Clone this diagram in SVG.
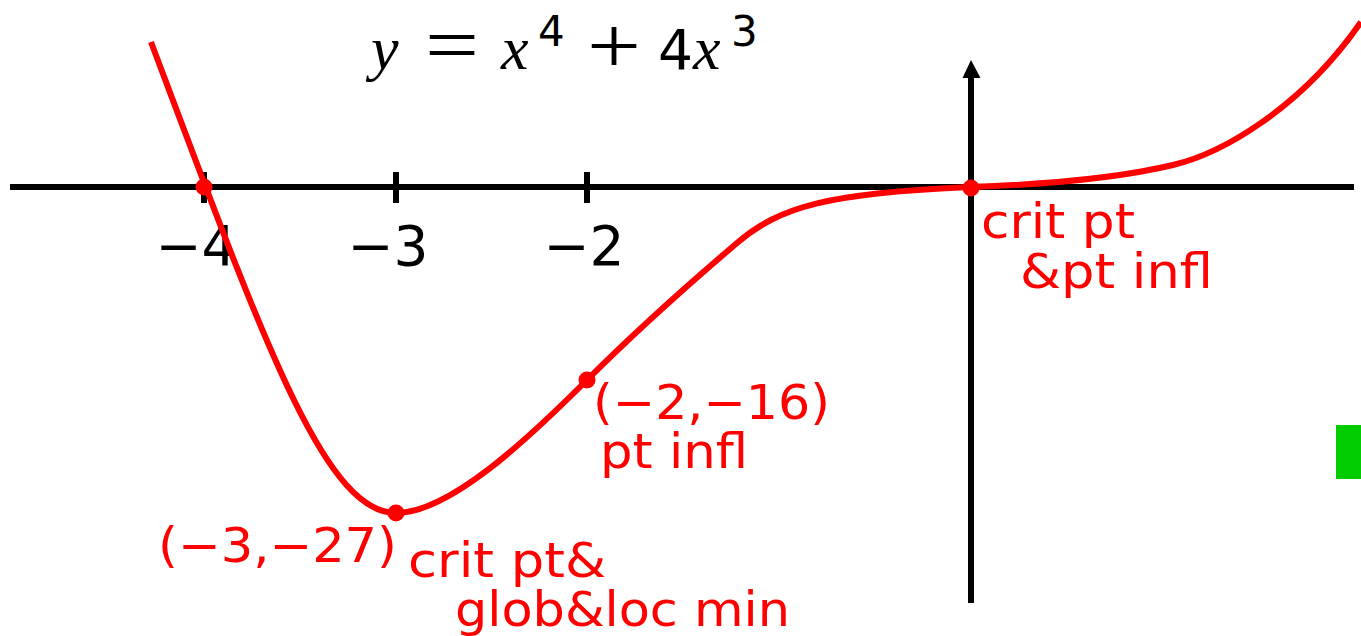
<svg xmlns="http://www.w3.org/2000/svg" width="1361" height="636" viewBox="0 0 1361 636">
<style>
.ax{stroke:#000;stroke-width:6;fill:none}
.tk{font-family:"DejaVu Sans",sans-serif;font-size:55px;fill:#000;text-anchor:middle}
.rl{font-family:"DejaVu Sans",sans-serif;font-size:48px;fill:#ff0000}
.mi{font-family:"Liberation Serif",serif;font-style:italic;font-size:62px;fill:#000}
.ms{font-family:"DejaVu Sans",sans-serif;font-size:55px;fill:#000}
.op{font-family:"Liberation Serif",serif;font-size:80px;fill:#000;text-anchor:middle}
.sup{font-family:"DejaVu Sans",sans-serif;font-size:42px;fill:#000}
.dot{fill:#ff0000}
</style>
<rect width="1361" height="636" fill="#fff"/>
<g id="axes">
<line class="ax" x1="10" y1="187" x2="1354" y2="187"/>
<line class="ax" x1="971" y1="603" x2="971" y2="74"/>
<polygon points="971,60 962.5,78 980.5,78" fill="#000"/>
<line class="ax" x1="204" y1="172" x2="204" y2="203"/>
<line class="ax" x1="396" y1="172" x2="396" y2="203"/>
<line class="ax" x1="587" y1="172" x2="587" y2="203"/>
<text class="tk" x="196" y="265">−4</text>
<text class="tk" x="388" y="265">−3</text>
<text class="tk" x="584" y="265">−2</text>
</g>
<g id="title">
<text class="mi" x="371" y="69">y</text>
<text class="op" x="452" y="72" textLength="54" lengthAdjust="spacingAndGlyphs">=</text>
<text class="mi" x="501" y="69">x</text>
<text class="sup" x="538" y="46">4</text>
<text class="op" x="614" y="73" textLength="54" lengthAdjust="spacingAndGlyphs">+</text>
<text class="ms" x="658" y="69">4</text>
<text class="mi" x="693" y="69">x</text>
<text class="sup" x="731" y="46">3</text>
</g>
<g id="curve">
<path d="M151,42 C265,345 325,513 396,513 C450,513 530,437 587,380 C630,337 690,283 737,243 C780,206 830,193 970,187 C1030,185 1110,180 1173,165 C1220,154 1300,110 1361,22" fill="none" stroke="#ff0000" stroke-width="6" stroke-linejoin="round"/>
</g>
<g id="p-4"><circle class="dot" cx="204" cy="187" r="8.5"/></g>
<g id="p-3">
<circle class="dot" cx="396" cy="513" r="8.5"/>
<text class="rl" x="158" y="562" textLength="239" lengthAdjust="spacingAndGlyphs">(−3,−27)</text>
<text class="rl" x="408" y="577" textLength="198" lengthAdjust="spacingAndGlyphs">crit pt&amp;</text>
<text class="rl" x="455" y="626" textLength="335" lengthAdjust="spacingAndGlyphs">glob&amp;loc min</text>
</g>
<g id="p-2">
<circle class="dot" cx="587" cy="380" r="8.5"/>
<text class="rl" x="593" y="419" textLength="237" lengthAdjust="spacingAndGlyphs">(−2,−16)</text>
<text class="rl" x="600" y="468" textLength="148" lengthAdjust="spacingAndGlyphs">pt infl</text>
</g>
<g id="p0">
<circle class="dot" cx="971" cy="188" r="8.5"/>
<text class="rl" x="981" y="238" textLength="154" lengthAdjust="spacingAndGlyphs">crit pt</text>
<text class="rl" x="1020" y="288" textLength="193" lengthAdjust="spacingAndGlyphs">&amp;pt infl</text>
</g>
<rect id="marker" x="1336" y="425" width="25" height="54" fill="#00cc00"/>
</svg>
